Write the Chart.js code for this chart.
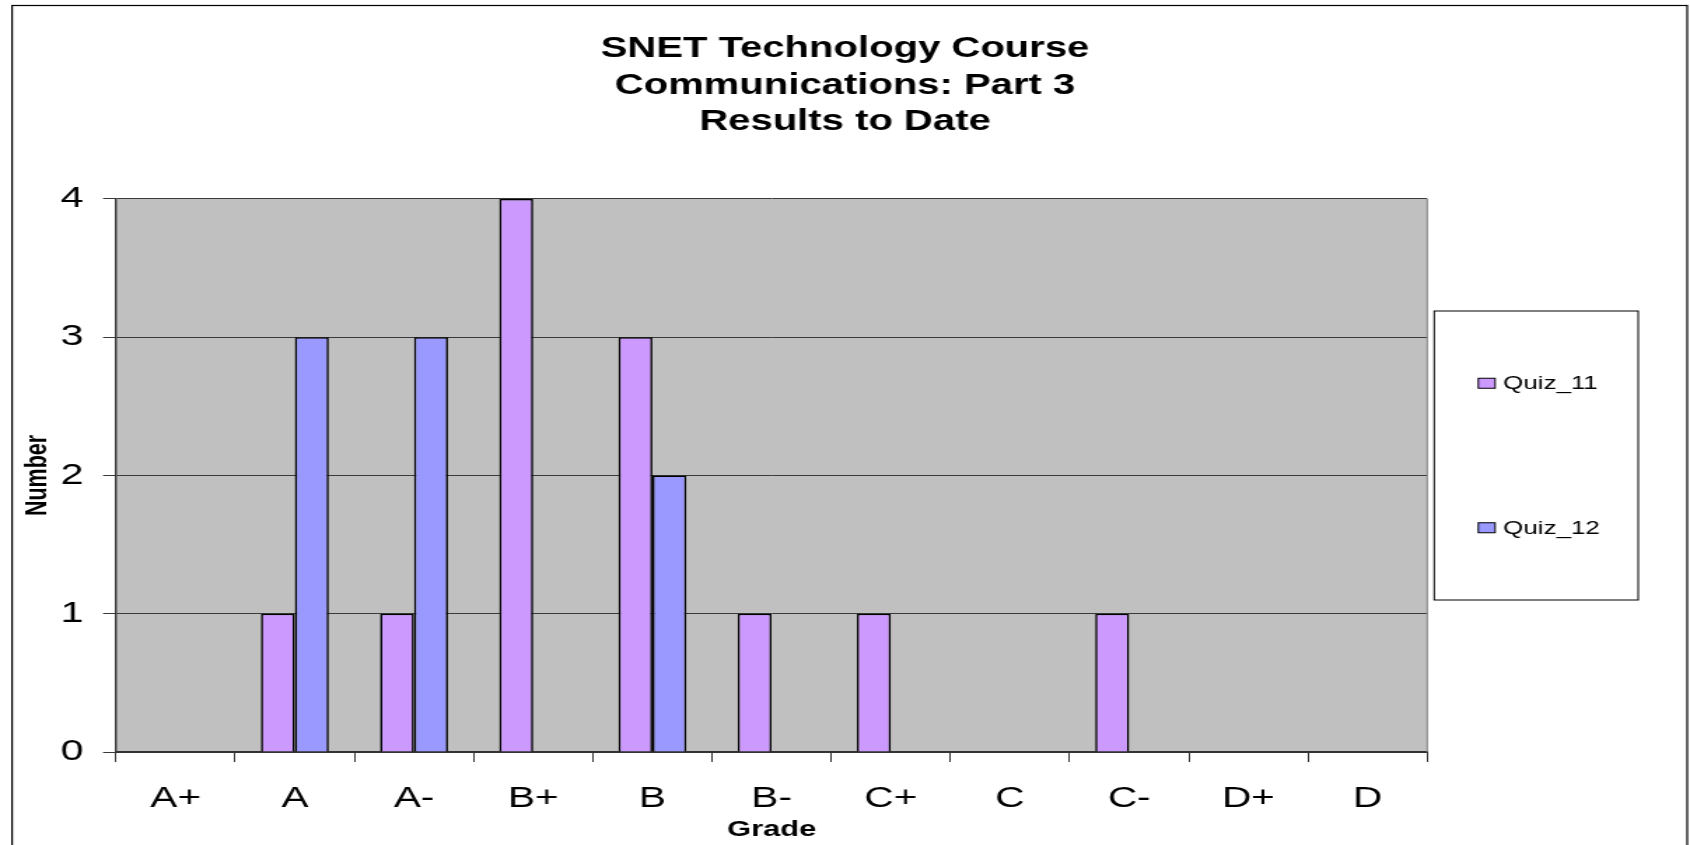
<!DOCTYPE html>
<html>
<head>
<meta charset="utf-8">
<script src="https://cdn.jsdelivr.net/npm/chart.js@4/dist/chart.umd.min.js"></script>
<style>
  html, body { margin: 0; padding: 0; background: #ffffff; }
  #c { display: block; width: 1690px; height: 845px; }
</style>
</head>
<body>
<canvas id="c" width="1207" height="845" style="width:1690px;height:845px;"></canvas>
<script>
// ---- data ----
const grades = ['A+', 'A', 'A-', 'B+', 'B', 'B-', 'C+', 'C', 'C-', 'D+', 'D'];
const quiz11 = [0, 1, 1, 4, 3, 1, 1, 0, 1, 0, 0];
const quiz12 = [0, 3, 3, 0, 2, 0, 0, 0, 0, 0, 0];
const seriesNames = ['Quiz_11', 'Quiz_12'];
const seriesColors = ['#CC99FF', '#9999FF'];
const titleLines = ['SNET Technology Course', 'Communications: Part 3', 'Results to Date'];
const yAxisTitle = 'Number';
const xAxisTitle = 'Grade';
const yMin = 0, yMax = 4, yStep = 1;

const FONT = "'Liberation Sans', Arial, Helvetica, sans-serif";

const plotBg = {
  id: 'plotBg',
  beforeDraw(chart) {
    const {ctx, chartArea: a} = chart;
    ctx.save();
    ctx.fillStyle = '#ffffff';
    ctx.fillRect(0, 0, chart.width, chart.height);
    ctx.fillStyle = '#C0C0C0';
    ctx.fillRect(a.left, a.top, a.right - a.left, a.bottom - a.top);
    ctx.restore();
  },
  afterDraw(chart) {
    const {ctx, chartArea: a} = chart;
    ctx.save();
    ctx.strokeStyle = '#808080';
    ctx.lineWidth = 1;
    ctx.beginPath();
    ctx.moveTo(a.right, a.top);
    ctx.lineTo(a.right, a.bottom);
    ctx.stroke();
    ctx.strokeStyle = '#000000';
    ctx.lineWidth = 1.2;
    ctx.strokeRect(8.6, 5.5, 1205 - 8.6, chart.height + 10);
    ctx.restore();
  }
};

const boxLegend = {
  id: 'boxLegend',
  afterDraw(chart) {
    const {ctx, chartArea: a} = chart;
    const left = a.right + 5, right = 1170, top = 311, bottom = 600;
    const h = bottom - top;
    ctx.save();
    ctx.fillStyle = '#ffffff';
    ctx.fillRect(left, top, right - left, h);
    ctx.strokeStyle = '#000000';
    ctx.lineWidth = 1;
    ctx.strokeRect(left, top, right - left, h);
    const n = chart.data.datasets.length;
    chart.data.datasets.forEach((ds, i) => {
      const cy = top + h * (2 * i + 1) / (2 * n);
      ctx.fillStyle = ds.backgroundColor;
      ctx.fillRect(left + 31.5, cy - 5, 12, 10);
      ctx.strokeStyle = '#000000';
      ctx.lineWidth = 1;
      ctx.strokeRect(left + 31.5, cy - 5, 12, 10);
      ctx.fillStyle = '#000000';
      ctx.font = '18.5px ' + FONT;
      ctx.textBaseline = 'middle';
      ctx.textAlign = 'left';
      ctx.fillText(ds.label, left + 49.3, cy + 1);
    });
    ctx.restore();
  }
};

new Chart(document.getElementById('c'), {
  type: 'bar',
  data: {
    labels: grades,
    datasets: [
      { label: seriesNames[0], data: quiz11, backgroundColor: seriesColors[0], borderColor: '#000000', borderWidth: 1.6 },
      { label: seriesNames[1], data: quiz12, backgroundColor: seriesColors[1], borderColor: '#000000', borderWidth: 1.6 }
    ]
  },
  options: {
    responsive: false,
    animation: false,
    devicePixelRatio: 1,
    categoryPercentage: 0.57,
    barPercentage: 1.0,
    layout: { padding: 0 },
    plugins: {
      legend: { display: false },
      tooltip: { enabled: false },
      title: {
        display: true,
        text: titleLines,
        color: '#000000',
        font: { family: FONT, size: 28.6, weight: 'bold', lineHeight: 1.276 },
        padding: { top: 31, bottom: 58.5 }
      }
    },
    scales: {
      x: {
        offset: true,
        grid: { display: true, offset: true, drawOnChartArea: false, drawTicks: true, tickLength: 10, color: '#333333', lineWidth: 1 },
        border: { display: true, color: '#333333', width: 2 },
        ticks: { color: '#000000', font: { family: FONT, size: 29 }, padding: 19.6, maxRotation: 0, autoSkip: false },
        title: { display: true, text: xAxisTitle, color: '#000000', font: { family: FONT, size: 22, weight: 'bold', lineHeight: 1.2 }, padding: { top: 0, bottom: 2.3 } },
        afterFit(s) { s.height = 93; }
      },
      y: {
        min: yMin, max: yMax,
        grid: { display: true, drawOnChartArea: true, drawTicks: true, tickLength: 9.3, color: '#3a3a3a', lineWidth: 1 },
        border: { display: true, color: '#333333', width: 1.4 },
        ticks: { stepSize: yStep, color: '#000000', font: { family: FONT, size: 29.5 }, padding: 14 },
        title: { display: true, text: yAxisTitle, color: '#000000', font: { family: FONT, size: 21.5, weight: 'bold', lineHeight: 1.2 }, padding: { top: 14.1, bottom: 0 } },
        afterFit(s) { s.width = 82.86; }
      },
      legendSpace: {
        type: 'linear',
        position: 'right',
        display: true,
        grid: { display: false, drawTicks: false },
        border: { display: false },
        ticks: { display: false },
        title: { display: false },
        afterFit(s) { s.width = 187.7; }
      }
    }
  },
  plugins: [plotBg, boxLegend]
});
</script>
</body>
</html>
